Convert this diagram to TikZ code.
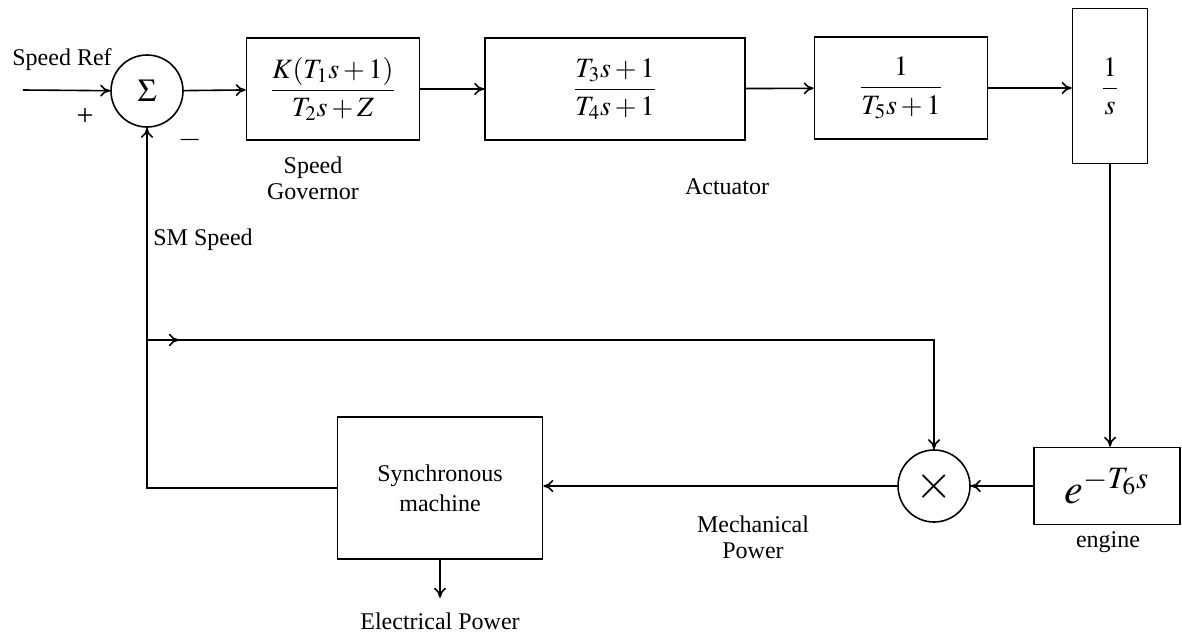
\documentclass[tikz,border=0pt]{standalone}
\usepackage{amsmath}
\usepackage{mathptmx}
\usepackage{fontspec}
\setmainfont{Liberation Serif}
\usetikzlibrary{arrows.meta,decorations.markings}

\begin{document}
\begin{tikzpicture}[x=0.5pt,y=-0.5pt,line width=0.8pt,>={To[length=5pt,width=6pt]},
  font=\fontsize{12}{13}\selectfont,
  blk/.style={draw,inner sep=2pt,font=\fontsize{14}{16}\selectfont},
  junc/.style={draw,circle,minimum size=36pt,inner sep=0pt},
  lbl/.style={align=center,inner sep=1pt},
  midarrow/.style={postaction={decorate},decoration={markings,
      mark=at position 16pt with {\arrow{>}}}}]
  \useasboundingbox (0,0) rectangle (1182,633);
  % forward path
  \node[junc,font=\fontsize{16}{18}\selectfont] (sum) at (147,91) {$\Sigma$};
  \node[blk,minimum width=86.5pt,minimum height=51pt] (gov) at (333,89)
    {$\displaystyle\frac{K(T_1s+1)}{T_2s+Z}$};
  \node[blk,minimum width=130pt,minimum height=51pt] (act) at (615,89)
    {$\displaystyle\frac{T_3s+1}{T_4s+1}$};
  \node[blk,minimum width=86.5pt,minimum height=51pt] (lag) at (901,88)
    {$\displaystyle\frac{1}{T_5s+1}$};
  \node[blk,minimum width=37.5pt,minimum height=77.5pt] (integ) at (1110,86)
    {$\displaystyle\frac{1}{s}$};
  \node[blk,minimum width=73pt,minimum height=38.5pt,font=\fontsize{21}{24}\selectfont]
    (eng) at (1107,486) {$e^{-T_6s}$};
  \node[junc,font=\fontsize{24}{26}\selectfont] (mult) at (934,486) {$\times$};
  \node[blk,minimum width=102.5pt,minimum height=71pt,align=center,
    font=\fontsize{12}{15}\selectfont] (sync) at (440,488) {Synchronous\\machine};
  % labels
  \node[lbl] (refl) at (62,60) {Speed Ref};
  \node[lbl,font=\fontsize{15}{16}\selectfont] (plus) at (85,117) {+};
  \node[lbl,font=\fontsize{15}{16}\selectfont] (minus) at (190,140) {$-$};
  \node[lbl] (govl) at (313,178) {Speed\\Governor};
  \node[lbl] (actl) at (727,187) {Actuator};
  \node[lbl] (sml) at (203,240) {SM Speed};
  \node[lbl] (mechl) at (753,537) {Mechanical\\Power};
  \node[lbl] (engl) at (1108,542) {engine};
  \node[lbl] (elec) at (440,621) {Electrical Power};
  \coordinate (ref) at (23,90);
  \coordinate (br) at (147,340);
  % connectors
  \draw[->] (ref) -- (sum);
  \draw[->] (sum) -- (gov);
  \draw[->] (gov) -- (act);
  \draw[->] (act) -- (lag);
  \draw[->] (lag.east) -- (lag.east -| integ.west);
  \draw[->] (integ.south) -- (integ.south |- eng.north);
  \draw[->] (eng) -- (mult);
  \draw[->] (mult) -- (mult -| sync.east);
  \draw[->] (sync.south) -- ([yshift=6pt]elec.north);
  \draw[->] (sync.west) -- (sync.west -| sum) -- (sum.south);
  \draw[->,midarrow] (br) -- (br -| mult) -- (mult.north);
\end{tikzpicture}
\end{document}
